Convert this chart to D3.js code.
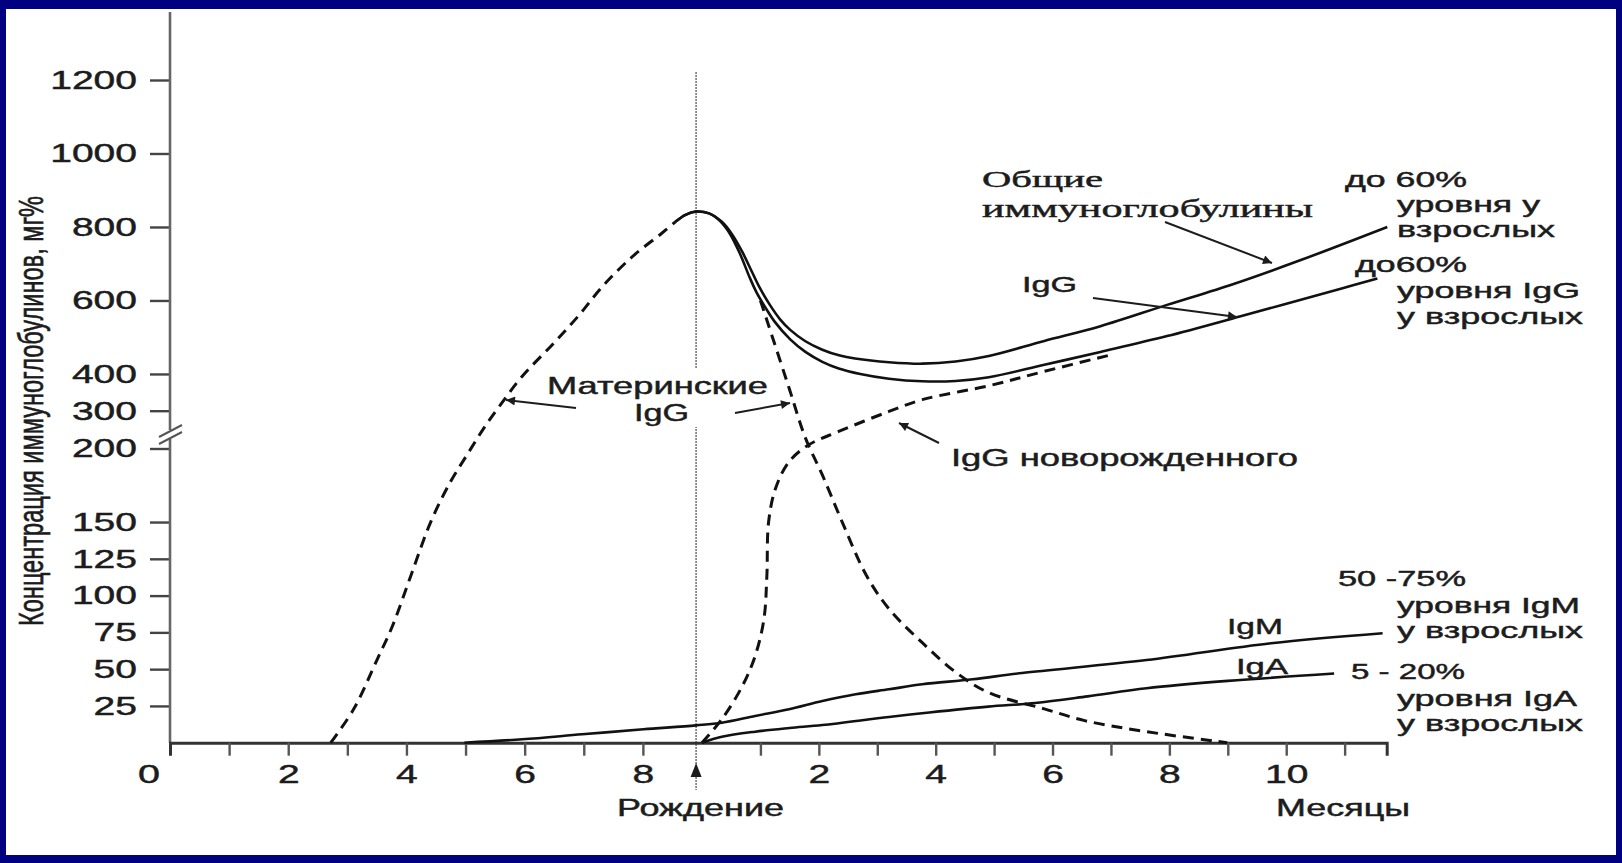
<!DOCTYPE html>
<html>
<head>
<meta charset="utf-8">
<script src="https://cdn.jsdelivr.net/npm/d3@7"></script>
<style>
    html, body { margin: 0; padding: 0; background: #000080; overflow: hidden; }
    svg { display: block; }
</style>
</head>
<body>
<main id="root"></main>
<script>
"use strict";

// months are counted from conception, birth is at month 9
var prenatal_ticks = [1, 2, 3, 4, 5, 6, 7, 8];
var postnatal_ticks = [1, 2, 3, 4, 5, 6, 7, 8, 9, 10, 11];
var y_ticks = [25, 50, 75, 100, 125, 150, 200, 300, 400, 600, 800, 1000, 1200];
var birth_month = 8.9;

// [month, mg%]
var maternal_before = [[2.72,0],[3.11,23],[3.51,57],[3.76,79],[4.07,113],[4.41,150],[4.74,177],[5.03,196],[5.31,254],[5.59,316],[5.96,394],[6.5,485],[6.92,560],[7.31,637],[7.82,719],[8.32,783],[8.55,814]];
var maternal_after = [[10.0,600],[10.49,362],[10.77,228],[11.06,182],[11.4,150],[11.81,114],[12.2,91],[12.77,68],[13.34,48],[13.91,34],[14.86,23],[15.55,15],[16.61,7.5],[17.99,0]];
var total_ig = [[8.55,814],[8.72,833],[8.9,842],[9.12,837],[9.34,814],[9.51,781],[9.69,732],[9.84,683],[9.99,634],[10.17,586],[10.34,548],[10.51,520],[10.77,489],[11.06,466],[11.36,450],[11.62,442],[12.2,432],[12.77,428],[13.34,434],[13.91,449],[14.86,490],[15.82,530],[16.96,588],[18.1,645],[19.25,710],[20.73,800]];
var igg = [[8.55,814],[8.72,833],[8.9,842],[9.12,837],[9.31,816],[9.48,781],[9.65,727],[9.82,661],[9.94,620],[10.1,577],[10.25,541],[10.51,494],[10.77,460],[11.06,433],[11.34,415],[11.71,400],[12.2,387],[12.77,380],[13.34,381],[13.91,391],[14.86,425],[15.82,460],[16.96,503],[18.22,557],[19.98,634],[20.56,660]];
var igg_newborn = [[9.0,0],[9.34,16],[9.69,38.5],[9.91,59],[10.06,84],[10.11,113],[10.14,150],[10.26,173],[10.49,191],[10.83,210],[11.34,245],[12.2,298],[12.77,330],[13.91,368],[14.86,407],[16.0,452]];
var igm = [[4.98,0],[5.96,2.3],[6.97,5.7],[8.01,9.1],[8.9,11.8],[9.34,13.6],[9.91,18.2],[10.49,22.7],[11.06,28.3],[11.63,32.9],[12.2,36.3],[12.77,39.7],[13.63,43.1],[14.48,47.4],[16.61,56.2],[18.74,67.6],[20.65,74.4]];
var iga = [[9.0,0],[9.34,4],[9.91,7.5],[10.5,10],[11.06,12],[12.2,17.5],[12.89,20.5],[13.9,24.5],[14.7,27],[15.6,31.5],[16.61,37],[18,42],[19.82,47]];

var width = 1622;
var height = 863;

var sans = '"Liberation Sans", Arial, sans-serif';
var serif = '"Liberation Serif", "DejaVu Serif", serif';
var ink = '#1c1c1c';

var x = d3.scaleLinear().domain([0, 9, 20.72]).range([170, 702, 1386.7]);
var y = d3.scaleLinear().domain([0, 200, 300, 1200]).range([742.7, 448.5, 410.7, 80]);

var root = d3.select('main#root');

var svg = root.append('svg')
    .attr('width', width)
    .attr('height', height);

svg.append('rect').attr('width', width).attr('height', height).attr('fill', '#000080');
svg.append('rect').attr('x', 6).attr('y', 9).attr('width', 1610).attr('height', 846).attr('fill', '#ffffff');

svg.append('defs').append('marker')
    .attr('id', 'head')
    .attr('viewBox', '0 0 10 10')
    .attr('refX', 10).attr('refY', 5)
    .attr('markerUnits', 'userSpaceOnUse')
    .attr('markerWidth', 16).attr('markerHeight', 9)
    .attr('orient', 'auto')
    .append('path').attr('d', 'M0,0L10,5L0,10z').attr('fill', ink);

function stretch( sel, w ) {
    sel.attr('textLength', w).attr('lengthAdjust', 'spacingAndGlyphs');
}

function inked( sel ) {
    sel.attr('fill', ink).attr('stroke', ink).attr('stroke-width', 0.45);
}

// birth line
var bx = x(birth_month);
svg.append('line')
    .attr('x1', bx).attr('x2', bx).attr('y1', 72).attr('y2', 790)
    .attr('stroke', '#777').attr('stroke-width', 1.6).attr('stroke-dasharray', '2,1');
svg.append('path')
    .attr('d', 'M' + bx + ',763L' + (bx + 5.5) + ',777L' + (bx - 5.5) + ',777Z')
    .attr('fill', ink);

// y axis
var y_axis = svg.append('g')
    .attr('transform', 'translate(170,0)')
    .call( d3.axisLeft( y ).tickValues( y_ticks ).tickSize( 20 ).tickPadding( 13 ).tickFormat( d3.format('d') ) );
y_axis.select('.domain').remove();
y_axis.selectAll('line').attr('stroke', '#444').attr('stroke-width', 2.4);
y_axis.selectAll('text')
    .attr('font-family', sans).attr('font-size', 26)
    .call( inked )
    .each( function( d ) { stretch( d3.select( this ), String( d ).length * 21.7 ); });

svg.append('line').attr('x1', 170).attr('x2', 170).attr('y1', 12).attr('y2', 430)
    .attr('stroke', '#666').attr('stroke-width', 2.6);
svg.append('line').attr('x1', 170).attr('x2', 170).attr('y1', 439).attr('y2', y(0))
    .attr('stroke', '#666').attr('stroke-width', 2.6);
[0, 7].forEach( function( o ) {
    svg.append('line')
        .attr('x1', 159).attr('y1', 437 + o).attr('x2', 182).attr('y2', 425 + o)
        .attr('stroke', '#555').attr('stroke-width', 2);
});

// x axis
var x_ticks = prenatal_ticks.concat( postnatal_ticks.map( function( m ) { return m + 9; } ) );
var x_axis = svg.append('g')
    .attr('transform', 'translate(0,' + y(0) + ')')
    .call( d3.axisBottom( x ).tickValues( x_ticks ).tickSizeOuter( 0 ).tickSize( 13 ).tickPadding( 9 )
        .tickFormat( function( m ) {
            var k = m > 9 ? m - 9 : m;
            return k % 2 === 0 ? k : '';
        }) );
x_axis.select('.domain').attr('stroke', '#333').attr('stroke-width', 3);
x_axis.selectAll('line').attr('stroke', '#555').attr('stroke-width', 2.4);
x_axis.selectAll('text')
    .attr('font-family', sans).attr('font-size', 26)
    .call( inked )
    .each( function() {
        var t = d3.select( this ).text();
        if ( t ) { stretch( d3.select( this ), t.length * 21.7 ); }
    });

svg.append('text').text('0')
    .attr('x', 149).attr('y', 783).attr('text-anchor', 'middle')
    .attr('font-family', sans).attr('font-size', 26)
    .call( inked )
    .call( stretch, 22 );

// curves
var line = d3.line()
    .x( function( d ) { return x( d[0] ); })
    .y( function( d ) { return y( d[1] ); })
    .curve( d3.curveCatmullRom.alpha( 0.5 ) );

var curves = [
    { values: maternal_before, dashed: true },
    { values: maternal_after, dashed: true },
    { values: igg_newborn, dashed: true },
    { values: igm, dashed: false },
    { values: iga, dashed: false },
    { values: igg, dashed: false },
    { values: total_ig, dashed: false }
];

svg.append('g').selectAll('path')
    .data( curves )
    .enter().append('path')
    .attr('d', function( d ) { return line( d.values ); })
    .attr('fill', 'none')
    .attr('stroke', '#111')
    .attr('stroke-width', function( d ) { return d.dashed ? 3 : 2.6; })
    .attr('stroke-dasharray', function( d ) { return d.dashed ? '11,7' : null; });

// white patch where the label cuts the birth line
svg.append('rect').attr('x', bx - 6).attr('y', 369).attr('width', 12).attr('height', 58).attr('fill', '#fff');

// annotations
var arrows = [
    [1165, 222, 1272, 263],
    [1093, 298, 1237, 317],
    [576, 408, 506, 400],
    [735, 413, 790, 403],
    [939, 443, 899, 423]
];
svg.append('g').selectAll('line')
    .data( arrows )
    .enter().append('line')
    .attr('x1', function( d ) { return d[0]; })
    .attr('y1', function( d ) { return d[1]; })
    .attr('x2', function( d ) { return d[2]; })
    .attr('y2', function( d ) { return d[3]; })
    .attr('stroke', ink).attr('stroke-width', 2)
    .attr('marker-end', 'url(#head)');

var labels = [
    ['Общие', 982, 187, 121, 24, serif],
    ['иммуноглобулины', 982, 217, 331, 26, serif],
    ['до 60%', 1345, 187, 122, 22, sans],
    ['уровня у', 1397, 212, 143, 22, sans],
    ['взрослых', 1397, 237, 158, 22, sans],
    ['до60%', 1355, 272, 112, 22, sans],
    ['уровня IgG', 1397, 298, 183, 22, sans],
    ['у взрослых', 1397, 324, 186, 22, sans],
    ['IgG', 1022, 292, 55, 22, sans],
    ['Материнские', 547, 394, 221, 23, sans],
    ['IgG', 634, 421, 55, 23, sans],
    ['IgG новорожденного', 951, 466, 347, 23, sans],
    ['50 -75%', 1338, 586, 128, 22, sans],
    ['уровня IgM', 1397, 613, 183, 22, sans],
    ['у взрослых', 1397, 638, 186, 22, sans],
    ['IgM', 1227, 634, 56, 22, sans],
    ['IgA', 1236, 674, 52, 22, sans],
    ['5 - 20%', 1351, 679, 114, 22, sans],
    ['уровня IgA', 1397, 706, 180, 22, sans],
    ['у взрослых', 1397, 731, 186, 22, sans],
    ['Рождение', 617, 816, 167, 23, sans],
    ['Месяцы', 1276, 816, 134, 23, sans]
];

svg.append('g').selectAll('text')
    .data( labels )
    .enter().append('text')
    .text( function( d ) { return d[0]; })
    .attr('x', function( d ) { return d[1]; })
    .attr('y', function( d ) { return d[2]; })
    .attr('textLength', function( d ) { return d[3]; })
    .attr('lengthAdjust', 'spacingAndGlyphs')
    .attr('font-size', function( d ) { return d[4]; })
    .attr('font-family', function( d ) { return d[5]; })
    .call( inked );

svg.append('text')
    .text('Концентрация иммуноглобулинов, мг%')
    .attr('transform', 'translate(43,411) rotate(-90) scale(1,1.45)')
    .attr('text-anchor', 'middle')
    .attr('font-family', sans).attr('font-size', 24)
    .call( inked )
    .call( stretch, 430 );

</script>
</body>
</html>
